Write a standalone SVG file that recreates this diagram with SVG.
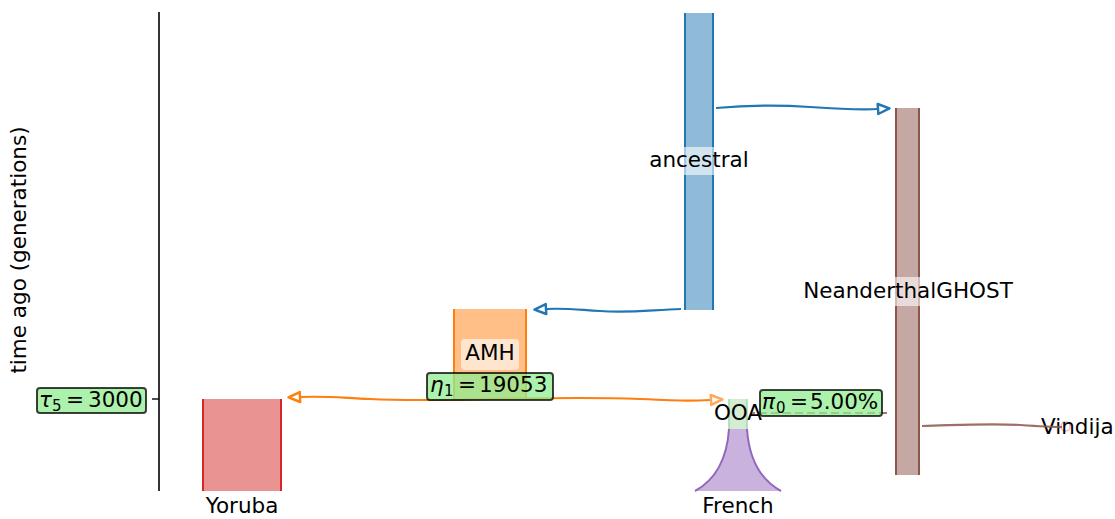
<svg xmlns="http://www.w3.org/2000/svg" width="1115" height="519" viewBox="0 0 1115 519">
<style>
text{font-family:"DejaVu Sans","Liberation Sans",sans-serif;font-size:21.5px;fill:#000}
.mid{text-anchor:middle}
.it{font-style:italic}
.sub{font-size:15px}
.lbl{fill:#90ee90;fill-opacity:0.75;stroke:#000;stroke-opacity:0.75;stroke-width:2}
.bb{fill:#fff;fill-opacity:0.6}
.con{fill:none;stroke-width:2.2}
</style>
<defs>
<marker id="ab" markerUnits="userSpaceOnUse" markerWidth="16" markerHeight="15" refX="1.5" refY="6.5" orient="auto" viewBox="0 0 16 13"><path d="M1.5,1.5 L13,6.5 L1.5,11.5 Z" fill="#fff" stroke="#1f77b4" stroke-width="2.5" stroke-linejoin="round"/></marker>
<marker id="ao" markerUnits="userSpaceOnUse" markerWidth="16" markerHeight="15" refX="1.5" refY="6.5" orient="auto" viewBox="0 0 16 13"><path d="M1.5,1.5 L13,6.5 L1.5,11.5 Z" fill="#fff" stroke="#ff7f0e" stroke-width="2.5" stroke-linejoin="round"/></marker>
<marker id="ao2" markerUnits="userSpaceOnUse" markerWidth="16" markerHeight="15" refX="1.5" refY="6.5" orient="auto" viewBox="0 0 16 13"><path d="M1.5,1.5 L13,6.5 L1.5,11.5 Z" fill="#fff" stroke="#ffa85a" stroke-width="2.5" stroke-linejoin="round"/></marker>
</defs>

<g id="axis">
<line x1="159" y1="12" x2="159" y2="491" stroke="#000" stroke-width="1.6"/>
<line x1="152" y1="399" x2="159" y2="399" stroke="#000" stroke-width="1.4"/>
<text x="26" y="250" class="mid" transform="rotate(-90 26 250)">time ago (generations)</text>
</g>

<g id="ancestral">
<rect x="685" y="13" width="28" height="297" fill="#8fbbd9"/>
<line x1="685" y1="13" x2="685" y2="310" stroke="#1f77b4" stroke-width="2"/>
<line x1="713" y1="13" x2="713" y2="310" stroke="#1f77b4" stroke-width="2"/>
<rect class="bb" x="647" y="147" width="104" height="28" rx="3"/>
<text x="699" y="167" class="mid">ancestral</text>
</g>

<g id="NeanderthalGHOST">
<rect x="896" y="108" width="23" height="367" fill="#c5a8a3"/>
<line x1="896" y1="108" x2="896" y2="475" stroke="#8c564b" stroke-width="2"/>
<line x1="919" y1="108" x2="919" y2="475" stroke="#8c564b" stroke-width="2"/>
<rect class="bb" x="800" y="277" width="216" height="29" rx="3"/>
<text x="908" y="298" class="mid">NeanderthalGHOST</text>
</g>

<g id="AMH">
<rect x="454" y="309" width="72" height="90" fill="#ffbf86"/>
<line x1="454" y1="309" x2="454" y2="399" stroke="#ff7f0e" stroke-width="2"/>
<line x1="526" y1="309" x2="526" y2="399" stroke="#ff7f0e" stroke-width="2"/>
<rect class="bb" x="461" y="339" width="58" height="31" rx="4"/>
<text x="490" y="360" class="mid">AMH</text>
</g>

<g id="Yoruba">
<rect x="203" y="399" width="78" height="92" fill="#ea9393"/>
<line x1="203" y1="399" x2="203" y2="491" stroke="#d62728" stroke-width="2"/>
<line x1="281" y1="399" x2="281" y2="491" stroke="#d62728" stroke-width="2"/>
<text x="242" y="513" class="mid">Yoruba</text>
</g>

<g id="OOA">
<rect x="729" y="399" width="18" height="30" fill="#d4ecd4"/>
<line x1="729" y1="399" x2="729" y2="429" stroke="#a6d8a6" stroke-width="1.5"/>
<line x1="747" y1="399" x2="747" y2="429" stroke="#a6d8a6" stroke-width="1.5"/>
<text x="738" y="420" class="mid">OOA</text>
</g>

<g id="French">
<path d="M729,429 Q726,474 695,491 L781,491 Q750,474 747,429 Z" fill="#c9b3de"/>
<path d="M729,429 Q726,474 695,491" fill="none" stroke="#9467bd" stroke-width="2"/>
<path d="M747,429 Q750,474 781,491" fill="none" stroke="#9467bd" stroke-width="2"/>
<text x="738" y="513" class="mid">French</text>
</g>

<g id="Vindija">
<rect x="1061" y="422" width="9" height="9" rx="4" fill="none" stroke="#e8b8cf" stroke-width="1.5"/>
<text x="1041" y="434">Vindija</text>
</g>

<g id="connectors">
<path class="con" d="M716,108 C750,105 780,105 810,107 S860,110 878,109" stroke="#1f77b4" marker-end="url(#ab)"/>
<path class="con" d="M681,309 C650,310 630,313 600,311 S565,308 546,309" stroke="#1f77b4" marker-end="url(#ab)"/>
<path class="con" d="M490,399 C450,400 410,401 370,399 S325,396 300,397" stroke="#ff7f0e" marker-end="url(#ao)"/>
<path class="con" d="M490,399 C540,398 590,397 640,399 S690,401 711,400" stroke="#ff7f0e" marker-end="url(#ao2)"/>
<path class="con" d="M922,426 C960,425 990,423 1020,425 S1050,427 1062,427" stroke="#8c564b" stroke-opacity="0.85"/>
<path class="con" d="M887,413 L752,413" stroke="#8c564b" stroke-dasharray="8,4" stroke-opacity="0.8"/>
</g>

<g id="labels">
<rect class="lbl" x="37" y="388" width="109" height="25" rx="3"/>
<text x="39" y="407"><tspan class="it">τ</tspan><tspan class="sub" x="52" dy="4">5</tspan><tspan x="66" dy="-4">=</tspan><tspan x="88">3000</tspan></text>
<rect class="lbl" x="427" y="373" width="126" height="27" rx="3"/>
<text x="430" y="392"><tspan class="it">η</tspan><tspan class="sub" x="444" dy="4">1</tspan><tspan x="458" dy="-4">=</tspan><tspan x="479">19053</tspan></text>
<rect class="lbl" x="760" y="390" width="122" height="26" rx="3"/>
<text x="762" y="409"><tspan class="it">π</tspan><tspan class="sub" x="776" dy="4">0</tspan><tspan x="790" dy="-4">=</tspan><tspan x="810">5.00%</tspan></text>
</g>
</svg>
